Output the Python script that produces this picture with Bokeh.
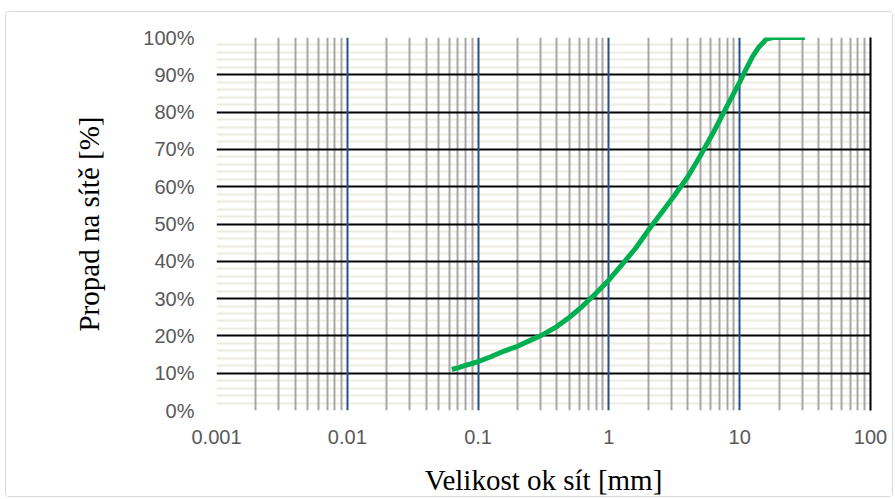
from bokeh.plotting import figure
from bokeh.models import (FixedTicker, PrintfTickFormatter, CustomJSTickFormatter,
                          LinearAxis, Grid)
from bokeh.embed import file_html
from bokeh.resources import INLINE

# --- data ---
sieve_mm = [0.063, 0.071, 0.08, 0.09, 0.1, 0.125, 0.16, 0.2, 0.25, 0.315, 0.4, 0.5,
            0.63, 0.8, 1.0, 1.25, 1.6, 2.0, 2.5, 3.15, 4.0, 5.0, 6.3, 8.0, 9.0, 10.0,
            11.2, 12.5, 14.0, 16.0, 18.0, 22.4, 31.5]
passing_pct = [11.0, 11.5, 12.1, 12.6, 13.1, 14.4, 16.0, 17.2, 18.8, 20.4, 22.5, 25.0,
               28.0, 31.5, 35.0, 39.0, 43.5, 48.3, 52.8, 57.5, 62.6, 68.3, 74.6, 81.6, 85.0, 88.0,
               91.5, 94.8, 97.4, 99.6, 100.0, 100.0, 100.0]

x_ticks = [0.001, 0.01, 0.1, 1, 10, 100]
x_tick_labels = ["0.001", "0.01", "0.1", "1", "10", "100"]
x_major_grid = [0.01, 0.1, 1, 10]
x_minor_grid = [m * d for d in [0.001, 0.01, 0.1, 1, 10] for m in range(2, 10)]
y_ticks = list(range(0, 101, 10))
y_minor_grid = [v for v in range(0, 101, 2) if v % 10 != 0]

x_title = "Velikost ok sít [mm]"
y_title = "Propad na sítě [%]"

p = figure(width=888, height=486, x_axis_type="log", x_range=(0.001, 100), y_range=(0, 100),
           output_backend="svg", toolbar_location=None,
           min_border_left=210, min_border_right=24, min_border_top=25, min_border_bottom=70)
p.styles = {"border": "1px solid #d9d9d9", "border-radius": "4px",
            "margin-left": "5px", "margin-top": "11px"}
p.outline_line_color = None
p.background_fill_color = "white"
p.border_fill_color = "white"

# hide default grids
p.xgrid.grid_line_color = None
p.ygrid.grid_line_color = None

# grids in Excel order: minor y, minor x, major y, major x
p.add_layout(Grid(dimension=1, ticker=FixedTicker(ticks=y_minor_grid),
                  grid_line_color="#eeece1", grid_line_width=2))
p.add_layout(Grid(dimension=0, ticker=FixedTicker(ticks=x_minor_grid),
                  grid_line_color="#a6a6a6", grid_line_width=2))
p.add_layout(Grid(dimension=1, ticker=FixedTicker(ticks=y_ticks),
                  grid_line_color="black", grid_line_width=2))
p.add_layout(Grid(dimension=0, ticker=FixedTicker(ticks=x_major_grid),
                  grid_line_color="#24508a", grid_line_width=2))

# axes
xa = p.xaxis[0]
xa.ticker = FixedTicker(ticks=x_ticks)
xa.formatter = CustomJSTickFormatter(code="return tick.toString();")
xa.major_label_overrides = dict(zip(x_ticks, x_tick_labels))
ya = p.yaxis[0]
ya.ticker = FixedTicker(ticks=y_ticks)
ya.formatter = PrintfTickFormatter(format="%d%%")

for ax in (xa, ya):
    ax.axis_line_color = None
    ax.major_tick_line_color = None
    ax.minor_tick_line_color = None
    ax.major_label_text_font = "Liberation Sans"
    ax.major_label_text_font_size = "20px"
    ax.major_label_text_color = "#595959"
    ax.axis_label_text_font = "Liberation Serif"
    ax.axis_label_text_font_size = "29px"
    ax.axis_label_text_font_style = "normal"
    ax.axis_label_text_color = "black"

xa.axis_label = x_title
ya.axis_label = y_title
xa.major_label_standoff = 13
xa.axis_label_standoff = 17
ya.major_label_standoff = 16
ya.axis_label_standoff = 35

right = LinearAxis(ticker=FixedTicker(ticks=[]), axis_line_color="black", axis_line_width=2,
                   major_tick_line_color=None, minor_tick_line_color=None,
                   major_label_text_font_size="0px")
p.add_layout(right, "right")

p.line(sieve_mm, passing_pct, line_color="#00b050", line_width=5, line_join="round")

open("out.html", "w").write(file_html(p, INLINE))
